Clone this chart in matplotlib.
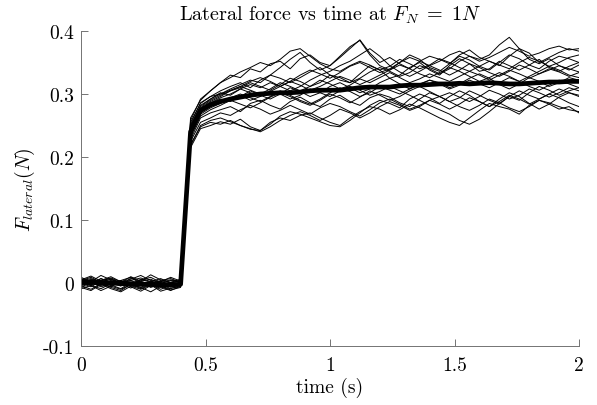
import numpy as np
import matplotlib
matplotlib.use("Agg")
import matplotlib.pyplot as plt

plt.rcParams['font.family'] = 'serif'
plt.rcParams['font.serif'] = ['cmr10', 'DejaVu Serif']
plt.rcParams['mathtext.fontset'] = 'cm'
plt.rcParams['axes.formatter.use_mathtext'] = True
plt.rcParams['axes.unicode_minus'] = False

# sample times (s), one reading every 0.04 s
time = np.round(np.arange(0, 2.0001, 0.04), 2)

# lateral force readings in mN: 11 values before the step (0..0.40 s), 40 after (0.44..2.0 s)
trials = [
    [5, -3, 7, 1, -5, 8, 0, -6, 3, -4, 1,
     262, 290, 305, 318, 330, 326, 340, 335, 348, 352, 340, 356, 362, 350, 345, 358, 372, 386, 365, 350,
     358, 348, 340, 352, 360, 355, 348, 362, 370, 358, 352, 345, 360, 372, 365, 350, 358, 366, 372, 368],
    [-7, -12, -2, -9, -14, -5, -10, -3, -13, -8, -6,
     215, 245, 250, 256, 252, 260, 248, 242, 255, 262, 258, 266, 270, 262, 255, 250, 262, 272, 280, 276,
     268, 275, 284, 278, 270, 262, 255, 250, 262, 274, 285, 280, 276, 268, 282, 290, 286, 280, 275, 272],
    [9, 2, 12, 5, 1, 10, 3, 13, 5, 1, 6,
     255, 285, 296, 305, 312, 318, 310, 322, 330, 325, 318, 326, 335, 342, 330, 322, 318, 332, 345, 338,
     325, 330, 342, 350, 338, 330, 345, 356, 348, 336, 340, 352, 345, 338, 346, 355, 342, 336, 344, 350],
    [-2, 4, -1, -6, 3, -4, 1, -7, -2, -9, -4,
     228, 262, 270, 275, 280, 272, 285, 290, 282, 276, 288, 295, 286, 280, 292, 298, 288, 282, 294, 300,
     295, 286, 280, 292, 302, 296, 288, 294, 305, 298, 290, 284, 296, 305, 298, 292, 300, 308, 302, 296],
    [1, -4, -9, -1, 3, -6, -13, -4, -7, -2, 0,
     220, 248, 255, 252, 258, 250, 244, 242, 252, 265, 272, 268, 262, 256, 250, 248, 258, 270, 282, 290,
     285, 278, 292, 300, 294, 285, 296, 305, 298, 288, 280, 292, 302, 296, 285, 276, 284, 295, 302, 298],
    [5, 11, 3, 8, 2, 6, 12, 4, 2, 9, 3,
     250, 280, 292, 300, 308, 315, 322, 318, 330, 342, 355, 366, 350, 338, 345, 360, 375, 385, 362, 345,
     338, 350, 362, 355, 342, 336, 348, 360, 354, 344, 338, 350, 362, 356, 346, 340, 352, 360, 356, 350],
    [-6, 0, -4, 3, -1, -8, 0, -3, -10, -4, -1,
     238, 270, 280, 286, 292, 298, 290, 296, 305, 300, 292, 298, 308, 302, 296, 305, 312, 306, 298, 304,
     312, 305, 298, 290, 282, 275, 268, 258, 252, 260, 272, 285, 296, 290, 302, 312, 306, 298, 305, 310],
    [2, -1, 7, 0, 4, -3, 6, 1, -1, 4, 2,
     245, 278, 290, 298, 305, 310, 318, 312, 306, 315, 325, 320, 312, 318, 330, 326, 318, 325, 335, 342,
     336, 328, 334, 345, 340, 332, 340, 352, 360, 355, 362, 378, 390, 372, 355, 348, 356, 345, 338, 346],
    [-1, 6, 0, -4, 1, 4, -3, 0, -6, -1, 0,
     242, 272, 285, 292, 288, 296, 305, 298, 292, 300, 310, 304, 296, 302, 312, 318, 310, 302, 308, 318,
     325, 316, 308, 315, 322, 318, 310, 316, 325, 332, 325, 315, 308, 316, 326, 320, 312, 318, 326, 322],
    [-9, -4, -12, -5, -10, -2, -7, -14, -5, -11, -7,
     225, 255, 262, 270, 266, 275, 282, 276, 268, 274, 282, 275, 268, 278, 285, 280, 272, 265, 275, 286,
     292, 284, 276, 282, 290, 296, 288, 280, 274, 282, 292, 286, 278, 272, 280, 290, 284, 276, 280, 270],
    [7, 1, 4, 10, 2, -1, 5, 9, 1, 5, 2,
     258, 292, 305, 318, 326, 335, 342, 350, 345, 355, 368, 372, 360, 348, 340, 336, 345, 352, 346, 338,
     344, 355, 348, 340, 346, 356, 350, 342, 336, 344, 352, 346, 340, 350, 358, 352, 344, 350, 358, 362],
    [0, -6, 3, -3, -9, 1, -4, 3, -1, -6, -3,
     232, 265, 275, 282, 290, 284, 278, 286, 295, 302, 296, 288, 282, 290, 300, 294, 286, 295, 305, 298,
     290, 296, 305, 312, 304, 296, 302, 295, 288, 296, 306, 300, 292, 298, 308, 302, 295, 302, 310, 305],
    [4, 9, 1, 6, 0, 4, 8, 2, 7, 0, 4,
     248, 282, 292, 302, 298, 308, 315, 310, 318, 312, 305, 312, 322, 330, 336, 345, 352, 362, 372, 360,
     345, 335, 328, 336, 345, 338, 330, 338, 348, 342, 334, 328, 336, 346, 340, 332, 338, 345, 340, 335],
    [-4, -10, -1, -7, -12, -2, -9, -1, -6, -12, -5,
     218, 250, 258, 262, 256, 250, 245, 240, 248, 258, 266, 272, 266, 258, 266, 276, 270, 262, 270, 280,
     288, 282, 274, 280, 290, 284, 276, 284, 294, 288, 280, 288, 298, 292, 284, 292, 300, 294, 286, 280],
    [1, -3, 4, 7, 0, -4, 3, 6, -1, 1, 3,
     252, 286, 296, 300, 306, 312, 306, 300, 308, 318, 312, 305, 312, 322, 316, 308, 314, 324, 318, 326,
     334, 326, 318, 324, 332, 326, 320, 328, 336, 330, 322, 330, 338, 332, 325, 332, 340, 335, 328, 334],
    [-3, 3, -1, 4, -4, 0, 3, -3, 1, -6, 0,
     240, 276, 288, 296, 305, 312, 320, 326, 320, 312, 320, 330, 338, 332, 325, 334, 344, 350, 342, 334,
     340, 350, 358, 352, 345, 352, 362, 368, 360, 352, 358, 366, 374, 368, 360, 365, 372, 376, 370, 372],
    [3, 7, 0, -3, 4, 9, 1, -1, 4, 7, 1,
     236, 268, 278, 285, 294, 300, 294, 288, 296, 305, 298, 290, 284, 292, 302, 310, 304, 296, 302, 312,
     306, 300, 308, 316, 322, 316, 308, 314, 322, 316, 310, 318, 326, 320, 312, 306, 314, 322, 316, 310],
    [-4, 1, -6, -1, 3, -3, -7, 0, -4, 1, -1,
     244, 276, 286, 294, 300, 308, 302, 296, 304, 312, 320, 314, 306, 312, 320, 328, 322, 315, 322, 330,
     338, 346, 340, 332, 326, 334, 342, 336, 328, 320, 326, 334, 328, 320, 328, 336, 344, 338, 330, 326],
]

# average over trials (mN)
mean_force = [1, 1, 0, 0, -1, -1, -2, -2, -3, -3, -2,
              240, 274, 283, 288, 292, 295, 298, 300, 301, 302, 302, 303, 305, 306, 306, 306, 308, 310, 311, 311,
              311, 313, 314, 314, 315, 316, 316, 317, 316, 317, 318, 317, 316, 316, 317, 318, 319, 319, 320, 320]

fig = plt.figure(figsize=(5.97, 4.06), dpi=100)
ax = fig.add_axes([81 / 597, 59 / 406, 498 / 597, 315 / 406])

for tr in trials:
    ax.plot(time, np.array(tr) / 1000.0, color='black', lw=0.7)
ax.plot(time, np.array(mean_force) / 1000.0, color='black', lw=3.4)

ax.set_xlim(0, 2)
ax.set_ylim(-0.1, 0.4)
ax.set_xticks([0, 0.5, 1, 1.5, 2])
ax.set_xticklabels(['0', '0.5', '1', '1.5', '2'])
ax.set_yticks([-0.1, 0, 0.1, 0.2, 0.3, 0.4])
ax.set_yticklabels(['-0.1', '0', '0.1', '0.2', '0.3', '0.4'])

for s in ['top', 'right']:
    ax.spines[s].set_visible(False)
for s in ['left', 'bottom']:
    ax.spines[s].set_color('0.45')
    ax.spines[s].set_linewidth(0.7)
ax.tick_params(direction='in', length=5, width=0.7, color='0.45', labelsize=14)
ax.tick_params(axis='x', pad=7)
ax.tick_params(axis='y', pad=5)

ax.set_title(r'Lateral force vs time at $F_N\;=\;1N$', fontsize=14.5, pad=8)
ax.set_xlabel('time (s)', fontsize=14, labelpad=2)
ax.set_ylabel(r'$F_{lateral}(N)$', fontsize=14, labelpad=4)

fig.savefig('out.png', dpi=100)
